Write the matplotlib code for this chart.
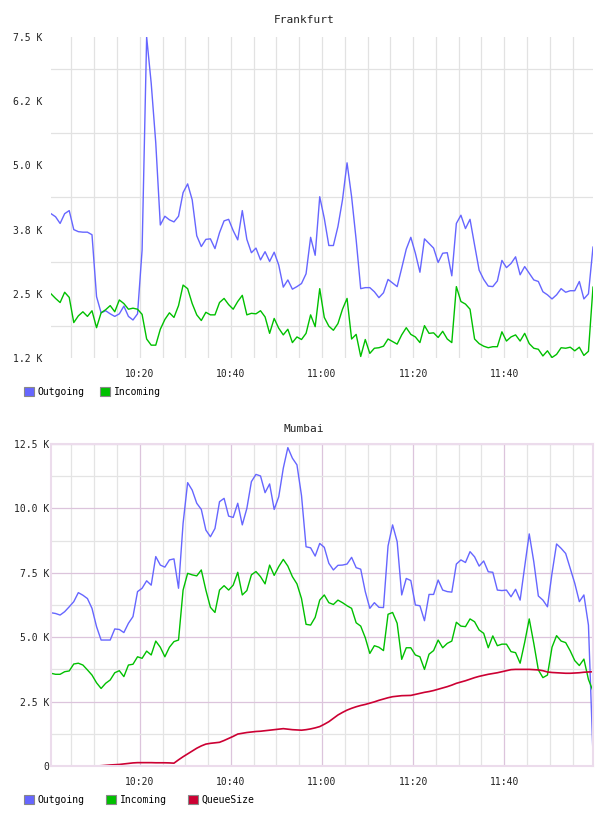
import matplotlib
matplotlib.use("Agg")
import matplotlib.pyplot as plt
import matplotlib.dates as mdates
from matplotlib.patches import Patch
import pandas as pd

# one sample per minute, 10:00 -> 12:00
times = pd.date_range("2014-01-01 10:00:30", periods=120, freq="min")

fra_out = [4060, 4000, 3870, 4060, 4120, 3750, 3710, 3700, 3700, 3650,
           2445, 2130, 2170, 2110, 2060, 2110, 2260, 2060, 1990, 2110,
           3350, 7500, 6600, 5440, 3840, 4010, 3940, 3900, 4010, 4470,
           4640, 4330, 3630, 3420, 3560, 3570, 3380, 3690, 3920, 3950,
           3730, 3550, 4120, 3560, 3300, 3390, 3160, 3320, 3130, 3310,
           3060, 2630, 2770, 2590, 2640, 2700, 2890, 3600, 3250, 4390,
           3970, 3440, 3440, 3810, 4330, 5050, 4390, 3550, 2600, 2620,
           2620, 2540, 2425, 2520, 2780, 2710, 2640, 3000, 3370, 3600,
           3290, 2920, 3570, 3480, 3390, 3110, 3290, 3300, 2850, 3870,
           4030, 3770, 3950, 3450, 2960, 2780, 2650, 2640, 2750, 3150,
           3010, 3090, 3220, 2870, 3030, 2900, 2770, 2740, 2540, 2480,
           2400, 2480, 2600, 2530, 2560, 2560, 2740, 2400, 2500, 3410]

fra_in = [2500, 2410, 2330, 2530, 2430, 1940, 2070, 2150, 2060, 2170,
          1840, 2130, 2190, 2270, 2150, 2380, 2310, 2200, 2220, 2200,
          2100, 1620, 1500, 1500, 1810, 2000, 2130, 2040, 2270, 2670,
          2600, 2310, 2090, 1980, 2140, 2090, 2090, 2330, 2410, 2290,
          2200, 2350, 2470, 2090, 2120, 2110, 2170, 2050, 1730, 2020,
          1830, 1700, 1810, 1550, 1660, 1610, 1730, 2090, 1860, 2600,
          2040, 1870, 1790, 1920, 2200, 2410, 1620, 1710, 1280, 1610,
          1340, 1440, 1450, 1480, 1620, 1570, 1520, 1700, 1840, 1710,
          1660, 1550, 1880, 1730, 1740, 1650, 1770, 1620, 1550, 2640,
          2350, 2300, 2200, 1620, 1530, 1480, 1450, 1470, 1470, 1760,
          1580, 1660, 1700, 1580, 1730, 1530, 1440, 1420, 1290, 1390,
          1260, 1320, 1450, 1440, 1460, 1390, 1460, 1300, 1380, 2630]

mum_out = [5950, 5920, 5860, 5990, 6180, 6380, 6730, 6630, 6500, 6120,
           5410, 4890, 4890, 4890, 5320, 5300, 5180, 5540, 5800, 6770,
           6900, 7190, 7020, 8130, 7800, 7720, 8000, 8040, 6900, 9420,
           11000, 10710, 10200, 9960, 9160, 8900, 9220, 10260, 10390, 9700,
           9650, 10200, 9360, 10000, 11040, 11320, 11260, 10610, 10950, 9960,
           10450, 11560, 12360, 11950, 11690, 10500, 8510, 8470, 8150, 8640,
           8490, 7870, 7610, 7790, 7800, 7840, 8100, 7700, 7640, 6770,
           6120, 6340, 6160, 6150, 8540, 9360, 8710, 6640, 7280, 7200,
           6250, 6220, 5640, 6660, 6660, 7220, 6830, 6770, 6750, 7840,
           8000, 7900, 8320, 8120, 7760, 7960, 7540, 7520, 6830, 6810,
           6830, 6570, 6860, 6440, 7740, 9010, 7930, 6600, 6440, 6180,
           7480, 8620, 8450, 8250, 7670, 7090, 6380, 6640, 5470, 430]

mum_in = [3600, 3560, 3560, 3660, 3690, 3960, 3990, 3920, 3730, 3530,
          3230, 3010, 3210, 3340, 3620, 3700, 3470, 3920, 3950, 4240,
          4180, 4460, 4310, 4850, 4610, 4240, 4610, 4830, 4890, 6830,
          7480, 7420, 7380, 7610, 6830, 6160, 5960, 6830, 7000, 6830,
          7020, 7520, 6640, 6810, 7420, 7550, 7350, 7070, 7800, 7400,
          7740, 8020, 7760, 7350, 7070, 6500, 5500, 5470, 5770, 6440,
          6640, 6340, 6270, 6440, 6340, 6220, 6120, 5560, 5430, 4980,
          4370, 4670, 4610, 4480, 5890, 5960, 5540, 4140, 4590, 4590,
          4310, 4240, 3750, 4340, 4480, 4890, 4590, 4760, 4850, 5580,
          5430, 5410, 5710, 5600, 5280, 5150, 4590, 5050, 4670, 4730,
          4730, 4440, 4400, 3990, 4800, 5710, 4760, 3730, 3430, 3530,
          4610, 5060, 4850, 4790, 4470, 4090, 3900, 4150, 3360, 2910]

mum_queue = [0, 0, 0, 0, 0, 0, 0, 0, 0, 0,
             0, 10, 25, 40, 50, 60, 80, 100, 120, 130,
             130, 130, 130, 125, 125, 125, 120, 110, 240, 360,
             470, 580, 690, 780, 850, 880, 900, 920, 990, 1070,
             1150, 1240, 1270, 1300, 1320, 1340, 1350, 1370, 1390, 1410,
             1430, 1450, 1430, 1410, 1400, 1390, 1410, 1440, 1480, 1530,
             1620, 1720, 1850, 1980, 2080, 2170, 2240, 2300, 2350, 2390,
             2440, 2490, 2550, 2600, 2650, 2690, 2710, 2730, 2735, 2740,
             2780, 2820, 2860, 2890, 2930, 2980, 3030, 3080, 3140, 3210,
             3260, 3310, 3370, 3430, 3480, 3520, 3560, 3590, 3620, 3660,
             3700, 3740, 3750, 3750, 3750, 3750, 3740, 3730, 3700, 3650,
             3630, 3620, 3610, 3600, 3600, 3610, 3620, 3640, 3650, 3660]

fra_ticks = [1250, 2500, 3750, 5000, 6250, 7500]
fra_labels = ["1.2 K", "2.5 K", "3.8 K", "5.0 K", "6.2 K", "7.5 K"]
fra_minor = [1875, 3125, 4375, 5625, 6875]
mum_ticks = [0, 2500, 5000, 7500, 10000, 12500]
mum_labels = ["0", "2.5 K", "5.0 K", "7.5 K", "10.0 K", "12.5 K"]
mum_minor = [1250, 3750, 6250, 8750, 11250]

c_out = "#6666ff"
c_in = "#00c000"
c_q = "#cc0033"
mono = "DejaVu Sans Mono"

fig = plt.figure(figsize=(6.08, 8.16), dpi=100)
ax1 = fig.add_axes([51 / 608, 1 - 358 / 816, 542 / 608, 321 / 816])
ax2 = fig.add_axes([51 / 608, 1 - 766 / 816, 542 / 608, 322 / 816])

ax1.plot(times, fra_out, color=c_out, lw=1.0)
ax1.plot(times, fra_in, color=c_in, lw=1.0)
ax2.plot(times, mum_out, color=c_out, lw=1.0)
ax2.plot(times, mum_in, color=c_in, lw=1.0)
ax2.plot(times, mum_queue, color=c_q, lw=1.2)

for ax in (ax1, ax2):
    ax.set_xlim(times[0], times[-1])
    ax.xaxis.set_major_locator(mdates.MinuteLocator(byminute=[0, 20, 40]))
    ax.xaxis.set_minor_locator(mdates.MinuteLocator(byminute=range(0, 60, 5)))
    ax.xaxis.set_major_formatter(mdates.DateFormatter("%H:%M"))
    ax.tick_params(which="both", length=0, labelsize=7, colors="#222222")
    ax.tick_params(axis="x", pad=8)
    for lab in ax.get_xticklabels() + ax.get_yticklabels():
        lab.set_family(mono)
    ax.set_axisbelow(True)

# Frankfurt
ax1.set_ylim(1250, 7500)
ax1.set_yticks(fra_ticks)
ax1.set_yticklabels(fra_labels, family=mono)
ax1.set_yticks(fra_minor, minor=True)
ax1.tick_params(axis="y", pad=6)
ax1.grid(which="minor", color="#e2e2e2", lw=0.9)
ax1.grid(which="major", axis="x", color="#e2e2e2", lw=0.9)
for s in ax1.spines.values():
    s.set_visible(False)

# Mumbai
ax2.set_ylim(0, 12500)
ax2.set_yticks(mum_ticks)
ax2.set_yticklabels(mum_labels, family=mono)
ax2.set_yticks(mum_minor, minor=True)
ax2.tick_params(axis="y", pad=1)
ax2.grid(which="minor", color="#e4e4e4", lw=0.9)
ax2.grid(which="major", color="#dcc4dc", lw=0.9)
for s in ax2.spines.values():
    s.set_color("#ecdcec")
    s.set_linewidth(1.5)

# titles are centred on the whole image
fig.text(0.5, 1 - 20 / 816, "Frankfurt", family=mono, fontsize=8,
         ha="center", va="center", color="#222222")
fig.text(0.5, 1 - 429 / 816, "Mumbai", family=mono, fontsize=8,
         ha="center", va="center", color="#222222")

def legend_at(y, names, colors, gap):
    handles = [Patch(facecolor=c, edgecolor="#888888", lw=0.8, label=n)
               for n, c in zip(names, colors)]
    fig.legend(handles=handles, loc="center left", bbox_to_anchor=(24 / 608, 1 - y / 816),
               ncol=len(handles), frameon=False, prop={"family": mono, "size": 7},
               handlelength=1.0, handleheight=1.0, handletextpad=0.4,
               columnspacing=gap, borderaxespad=0, borderpad=0)

legend_at(392, ["Outgoing", "Incoming"], [c_out, c_in], 1.6)
legend_at(800, ["Outgoing", "Incoming", "QueueSize"], [c_out, c_in, c_q], 2.2)

fig.savefig("out.png", dpi=100)
